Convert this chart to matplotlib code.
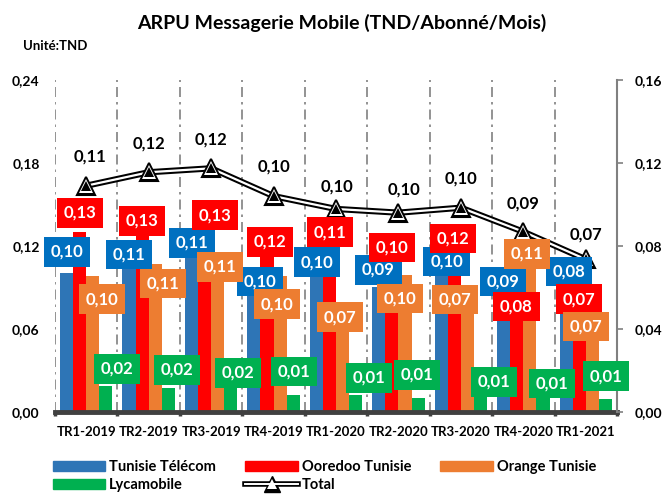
import matplotlib.pyplot as plt
import numpy as np
from matplotlib.lines import Line2D
from matplotlib.patches import Patch
from matplotlib.legend_handler import HandlerTuple

plt.rcParams['font.family'] = ['Lato', 'DejaVu Sans']
plt.rcParams['font.weight'] = 'bold'

# data
quarters = ['TR1-2019', 'TR2-2019', 'TR3-2019', 'TR4-2019', 'TR1-2020',
            'TR2-2020', 'TR3-2020', 'TR4-2020', 'TR1-2021']
tunisie_telecom = [0.100, 0.106, 0.112, 0.098, 0.098, 0.090, 0.099, 0.088, 0.078]
ooredoo = [0.13, 0.13, 0.13, 0.12, 0.11, 0.10, 0.12, 0.08, 0.07]
orange = [0.098, 0.107, 0.11, 0.098, 0.07, 0.099, 0.0704, 0.11, 0.07]
lycamobile = [0.0186, 0.0174, 0.0169, 0.012, 0.012, 0.010, 0.0136, 0.0107, 0.0092]
total = [0.109, 0.1155, 0.1174, 0.104, 0.0978, 0.096, 0.0984, 0.0868, 0.0735]

# where the data labels sit (dx in category units, y in left axis units)
tt_lab = [(-0.31, 0.1156), (-0.32, 0.1136), (-0.31, 0.1221), (-0.22, 0.0940), (-0.31, 0.1083),
          (-0.32, 0.1026), (-0.23, 0.1085), (-0.33, 0.0940), (-0.27, 0.1013)]
oo_lab = [(-0.10, 0.1438), (-0.10, 0.1380), (0.06, 0.1423), (-0.06, 0.1228), (-0.10, 0.1300),
          (-0.11, 0.1190), (-0.12, 0.1255), (-0.11, 0.0760), (-0.11, 0.0815)]
or_lab = [(0.25, 0.0815), (0.23, 0.0929), (0.14, 0.1047), (0.06, 0.0779), (0.06, 0.0685),
          (0.02, 0.0821), (-0.09, 0.0813), (0.06, 0.1141), (0.01, 0.0615)]
ly_lab = [(0.49, 0.0309), (0.45, 0.0302), (0.43, 0.0280), (0.33, 0.0289), (0.53, 0.0244),
          (0.30, 0.0266), (0.53, 0.0215), (0.46, 0.0205), (0.32, 0.0258)]
tot_off = [(3, 21), (0, 21), (0, 21), (0, 21), (1, 16), (4, 17), (0, 21), (0, 20), (0, 18)]

c_tt, c_oo, c_or, c_ly = '#2E75B6', '#FF0000', '#ED7D31', '#00B050'
c_tt_box = '#0070C0'

x = np.arange(len(quarters))
w = 0.21

fig = plt.figure(figsize=(6.63, 4.99), dpi=100)
ax = fig.add_axes([55/663, 1-411.7/499, (617-55)/663, (411.7-80)/499])
ax2 = ax.twinx()

for xb in np.arange(-0.5, 8, 1):
    ax.axvline(xb, color='#808080', lw=1.2, ls=(0, (6, 3, 1.5, 3)), zorder=0)

ax.bar(x - 1.5*w, tunisie_telecom, w, color=c_tt, zorder=2)
ax.bar(x - 0.5*w, ooredoo, w, color=c_oo, zorder=2)
ax.bar(x + 0.5*w, orange, w, color=c_or, zorder=2)
ax.bar(x + 1.5*w, lycamobile, w, color=c_ly, zorder=2)

ax.set_xlim(-0.5, 8.5)
ax.set_ylim(0, 0.24)
ax.set_yticks(np.arange(0, 0.25, 0.06))
ax.set_yticklabels([f'{v:.2f}'.replace('.', ',') for v in np.arange(0, 0.25, 0.06)])
ax.tick_params(axis='y', length=0, pad=11, labelsize=10)
ax.set_xticks(x)
ax.set_xticklabels(quarters, fontsize=9.5)
ax.set_xticks(np.arange(-0.5, 9, 1), minor=True)
ax.tick_params(axis='x', which='major', length=0, pad=10)
ax.tick_params(axis='x', which='minor', length=3, width=2.5, color='#404040')
for s in ['left', 'top', 'right']:
    ax.spines[s].set_visible(False)
ax.spines['bottom'].set_linewidth(3.5)
ax.spines['bottom'].set_color('#404040')

# total line (double line)
ax2.plot(x, total, color='black', lw=4.5, zorder=3, solid_capstyle='round')
ax2.plot(x, total, color='white', lw=1.6, zorder=4, solid_capstyle='round')
ax2.plot(x, total, ls='none', marker='^', ms=13, mfc='black', mec='black', mew=1.5, zorder=5)
ax2.plot(x, total, ls='none', marker='^', ms=9.5, mfc='white', mec='white', mew=0, zorder=6)
ax2.plot(x, total, ls='none', marker='^', ms=6.5, mfc='black', mec='black', mew=0, zorder=7)
ax2.set_ylim(0, 0.16)
ax2.set_yticks(np.arange(0, 0.161, 0.04))
ax2.set_yticklabels([f'{v:.2f}'.replace('.', ',') for v in np.arange(0, 0.161, 0.04)])
ax2.tick_params(axis='y', length=4, width=1.2, color='#808080', pad=9, labelsize=10)
for s in ['left', 'top', 'bottom']:
    ax2.spines[s].set_visible(False)
ax2.spines['right'].set_color('#808080')
ax2.spines['right'].set_linewidth(1.5)


def fmt(v):
    return f'{v:.2f}'.replace('.', ',')


def box_labels(vals, pos, color):
    for i, (v, (dx, ly)) in enumerate(zip(vals, pos)):
        ax2.text(i + dx, ly, fmt(v), transform=ax.transData, ha='center', va='center',
                 color='white', fontsize=12, fontweight='bold', zorder=10, clip_on=False,
                 bbox=dict(boxstyle='square,pad=0.4', fc=color, ec='none'))


box_labels(tunisie_telecom, tt_lab, c_tt_box)
box_labels(ooredoo, oo_lab, c_oo)
box_labels(orange, or_lab, c_or)
box_labels(lycamobile, ly_lab, c_ly)

for i, v in enumerate(total):
    ax2.annotate(fmt(v), (i, v), xytext=tot_off[i], textcoords='offset points',
                 ha='center', va='center', fontsize=12, fontweight='bold',
                 color='black', zorder=10)

fig.text(342/663, 1-23/499, 'ARPU Messagerie Mobile (TND/Abonné/Mois)', ha='center',
         va='center', fontsize=14, fontweight='bold')
fig.text(23/663, 1-46/499, 'Unité:TND', ha='left', va='center', fontsize=9.5, fontweight='bold')

tot_handle = (Line2D([], [], color='black', lw=4, marker='^', ms=11, mfc='black', mec='black'),
              Line2D([], [], color='white', lw=1.4, marker='^', ms=7.5, mfc='white', mec='white', mew=0))
handles = [Patch(color=c_tt), Patch(color=c_ly), Patch(color=c_oo), tot_handle, Patch(color=c_or)]
labels = ['Tunisie Télécom', 'Lycamobile', 'Ooredoo Tunisie', 'Total', 'Orange Tunisie']
fig.legend(handles, labels, loc='center', bbox_to_anchor=(324.5/663, 1-476/499), ncol=3,
           frameon=False, fontsize=10.5, handlelength=3.6, handleheight=0.68,
           handletextpad=0.27, columnspacing=2.0, labelspacing=0.25,
           handler_map={tuple: HandlerTuple(ndivide=1, pad=0)})

fig.savefig('out.png', dpi=100)
